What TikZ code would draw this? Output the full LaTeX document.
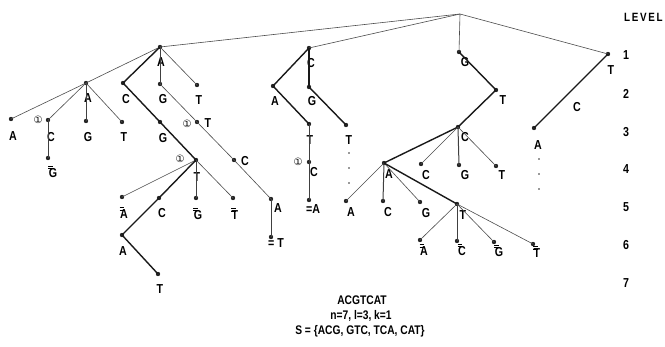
\documentclass[tikz,border=0pt]{standalone}
\usepackage{fontspec}
\setmainfont[FakeStretch=0.82]{Liberation Sans}
\newfontfamily\symfont{DejaVu Sans}
\begin{document}
\begin{tikzpicture}[x=1pt,y=-1pt,
  dot/.style={circle,fill=black!85,inner sep=0pt,minimum size=4.4pt},
  pip/.style={circle,fill=black!80,inner sep=0pt,minimum size=1.8pt},
  lab/.style={inner sep=0pt,font=\fontsize{13}{13}\selectfont\bfseries},
  one/.style={inner sep=0pt,font=\symfont\fontsize{10}{10}\selectfont},
  ethin/.style={line width=0.6pt,draw=black!70},
  emid/.style={line width=1pt,draw=black!75},
  ethick/.style={line width=1.4pt,draw=black!90},
  captxt/.style={inner sep=0pt,font=\fontsize{12.5}{12.5}\selectfont\bfseries}]
% letter with a short double bar over its upper left corner
\newcommand\dbar[1]{\makebox[0pt][l]{\kern-0.05em\raisebox{8.2pt}{\rule{4.5pt}{0.9pt}}}\makebox[0pt][l]{\kern-0.05em\raisebox{10.3pt}{\rule{4.5pt}{0.9pt}}}#1}
\newcommand\tn[4]{\node[dot] (#1) at (#2) {}; \node[lab] (#1-l) at (#4) {#3};}
\useasboundingbox (0,0) rectangle (665,346);
\fill[white] (0,0) rectangle (665,346);

\coordinate (root) at (460,14);

% level 1
\tn{a1}{160,47}{A}{161,62}
\tn{c1}{309,48}{C}{311,63}
\tn{g1}{459,52}{G}{465,62}
\tn{t1}{608,54}{T}{611,70}

% subtree under A
\tn{aa}{86,83}{A}{88,98}
\tn{ac}{123,83}{C}{126,99}
\tn{ag}{160,84}{G}{163,99}
\tn{at}{197,85}{T}{199,100}

\tn{aaa}{11,119}{A}{13,136}
\tn{aac}{48,120}{C}{51,137}
\tn{aag}{86,121}{G}{88,137}
\tn{aat}{122,122}{T}{124,137}
\tn{aacg}{48,158}{\dbar{G}}{53,172}
\node[one] (o1) at (38,120) {①};

\tn{acg}{160,122}{G}{163,138}
\tn{acgt}{196,160}{T}{197,177}
\node[one] (o2) at (180,159) {①};
\tn{acgta}{122,197}{\dbar{A}}{124,213}
\tn{acgtc}{159,198}{C}{162,213}
\tn{acgtg}{196,198}{\dbar{G}}{198,214}
\tn{acgtt}{233,198}{\dbar{T}}{235,214}
\tn{acgtca}{122,235}{A}{123,251}
\tn{acgtcat}{158,274}{T}{160,289}

\tn{agt}{197,122}{T}{208,123}
\node[one] (o3) at (187,124) {①};
\tn{agtc}{234,160}{C}{245,161}
\tn{agtca}{271,199}{A}{278,208}
\tn{agtcat}{271,237}{= T}{276,243}

% subtree under C
\tn{ca}{273,86}{A}{275,101}
\tn{cg}{309,87}{G}{312,101}
\tn{cat}{309,124}{T}{310,140}
\tn{cgt}{346,125}{T}{349,140}
\tn{catc}{309,162}{C}{314,172}
\node[one] (o4) at (298,162) {①};
\tn{catca}{309,200}{=A}{313,209}
\node[pip] (d1) at (349,153) {};
\node[pip] (d2) at (349,168) {};
\node[pip] (d3) at (349,183) {};

% subtree under G
\tn{gt}{496,90}{T}{503,100}
\tn{gtc}{458,127}{C}{465,137}
\tn{gtca}{384,163}{A}{389,174}
\tn{gtcc}{421,164}{C}{426,175}
\tn{gtcg}{459,165}{G}{465,175}
\tn{gtct}{496,166}{T}{502,175}
\tn{gtcaa}{346,201}{A}{351,212}
\tn{gtcac}{383,201}{C}{388,212}
\tn{gtcag}{420,202}{G}{426,213}
\tn{gtcat}{457,204}{T}{463,215}
\tn{gtcata}{420,240}{\dbar{A}}{424,250}
\tn{gtcatc}{457,241}{\dbar{C}}{462,250}
\tn{gtcatg}{494,242}{\dbar{G}}{499,251}
\tn{gtcatt}{533,244}{\dbar{T}}{537,252}

% subtree under T
\tn{tca}{534,128}{A}{538,145}
\node[lab] (tc-l) at (577,107) {C};
\node[pip] (e1) at (539,159) {};
\node[pip] (e2) at (539,174) {};
\node[pip] (e3) at (539,189) {};

% edges
\draw[ethin] (root) -- (a1.center);
\draw[ethin] (root) -- (c1.center);
\draw[ethin] (root) -- (g1.center);
\draw[ethin] (root) -- (t1.center);

\draw[ethin] (a1.center) -- (aa.center);
\draw[ethick] (a1.center) -- (ac.center);
\draw[emid] (a1.center) -- (ag.center);
\draw[ethin] (a1.center) -- (at.center);

\draw[ethin] (aa.center) -- (aaa.center);
\draw[ethin] (aa.center) -- (aac.center);
\draw[emid] (aa.center) -- (aag.center);
\draw[ethin] (aa.center) -- (aat.center);
\draw[emid] (aac.center) -- (aacg.center);

\draw[ethick] (ac.center) -- (acg.center);
\draw[ethick] (acg.center) -- (acgt.center);
\draw[ethin] (acgt.center) -- (acgta.center);
\draw[ethick] (acgt.center) -- (acgtc.center);
\draw[emid] (acgt.center) -- (acgtg.center);
\draw[ethin] (acgt.center) -- (acgtt.center);
\draw[ethick] (acgtc.center) -- (acgtca.center);
\draw[ethick] (acgtca.center) -- (acgtcat.center);

\draw[ethin] (ag.center) -- (agt.center);
\draw[ethin] (agt.center) -- (agtc.center);
\draw[ethin] (agtc.center) -- (agtca.center);
\draw[emid] (agtca.center) -- (agtcat.center);

\draw[ethick] (c1.center) -- (ca.center);
\draw[ethick] (c1.center) -- (cg.center);
\draw[ethick] (ca.center) -- (cat.center);
\draw[ethick] (cg.center) -- (cgt.center);
\draw[emid] (cat.center) -- (catc.center);
\draw[emid] (catc.center) -- (catca.center);

\draw[ethick] (g1.center) -- (gt.center);
\draw[ethick] (gt.center) -- (gtc.center);
\draw[ethick] (gtc.center) -- (gtca.center);
\draw[ethin] (gtc.center) -- (gtcc.center);
\draw[emid] (gtc.center) -- (gtcg.center);
\draw[ethin] (gtc.center) -- (gtct.center);
\draw[ethin] (gtca.center) -- (gtcaa.center);
\draw[emid] (gtca.center) -- (gtcac.center);
\draw[ethin] (gtca.center) -- (gtcag.center);
\draw[ethick] (gtca.center) -- (gtcat.center);
\draw[ethin] (gtcat.center) -- (gtcata.center);
\draw[emid] (gtcat.center) -- (gtcatc.center);
\draw[ethin] (gtcat.center) -- (gtcatg.center);
\draw[ethin] (gtcat.center) -- (gtcatt.center);

\draw[ethick] (t1.center) -- (tca.center);

% level scale
\node[lab,anchor=west,font=\fontsize{12}{12}\selectfont\bfseries\addfontfeature{LetterSpace=14}] (lev) at (624,17) {LEVEL};
\foreach \k/\yy in {1/55,2/94,3/132,4/169,5/207,6/245,7/283}
  \node[lab] (lv\k) at (626,\yy) {\k};

% caption
\node[captxt] (s1) at (362,300) {ACGTCAT};
\node[captxt] (s2) at (361,316) {n=7, l=3, k=1};
\node[captxt] (s3) at (360,331) {S = \{ACG, GTC, TCA, CAT\}};
\end{tikzpicture}
\end{document}
